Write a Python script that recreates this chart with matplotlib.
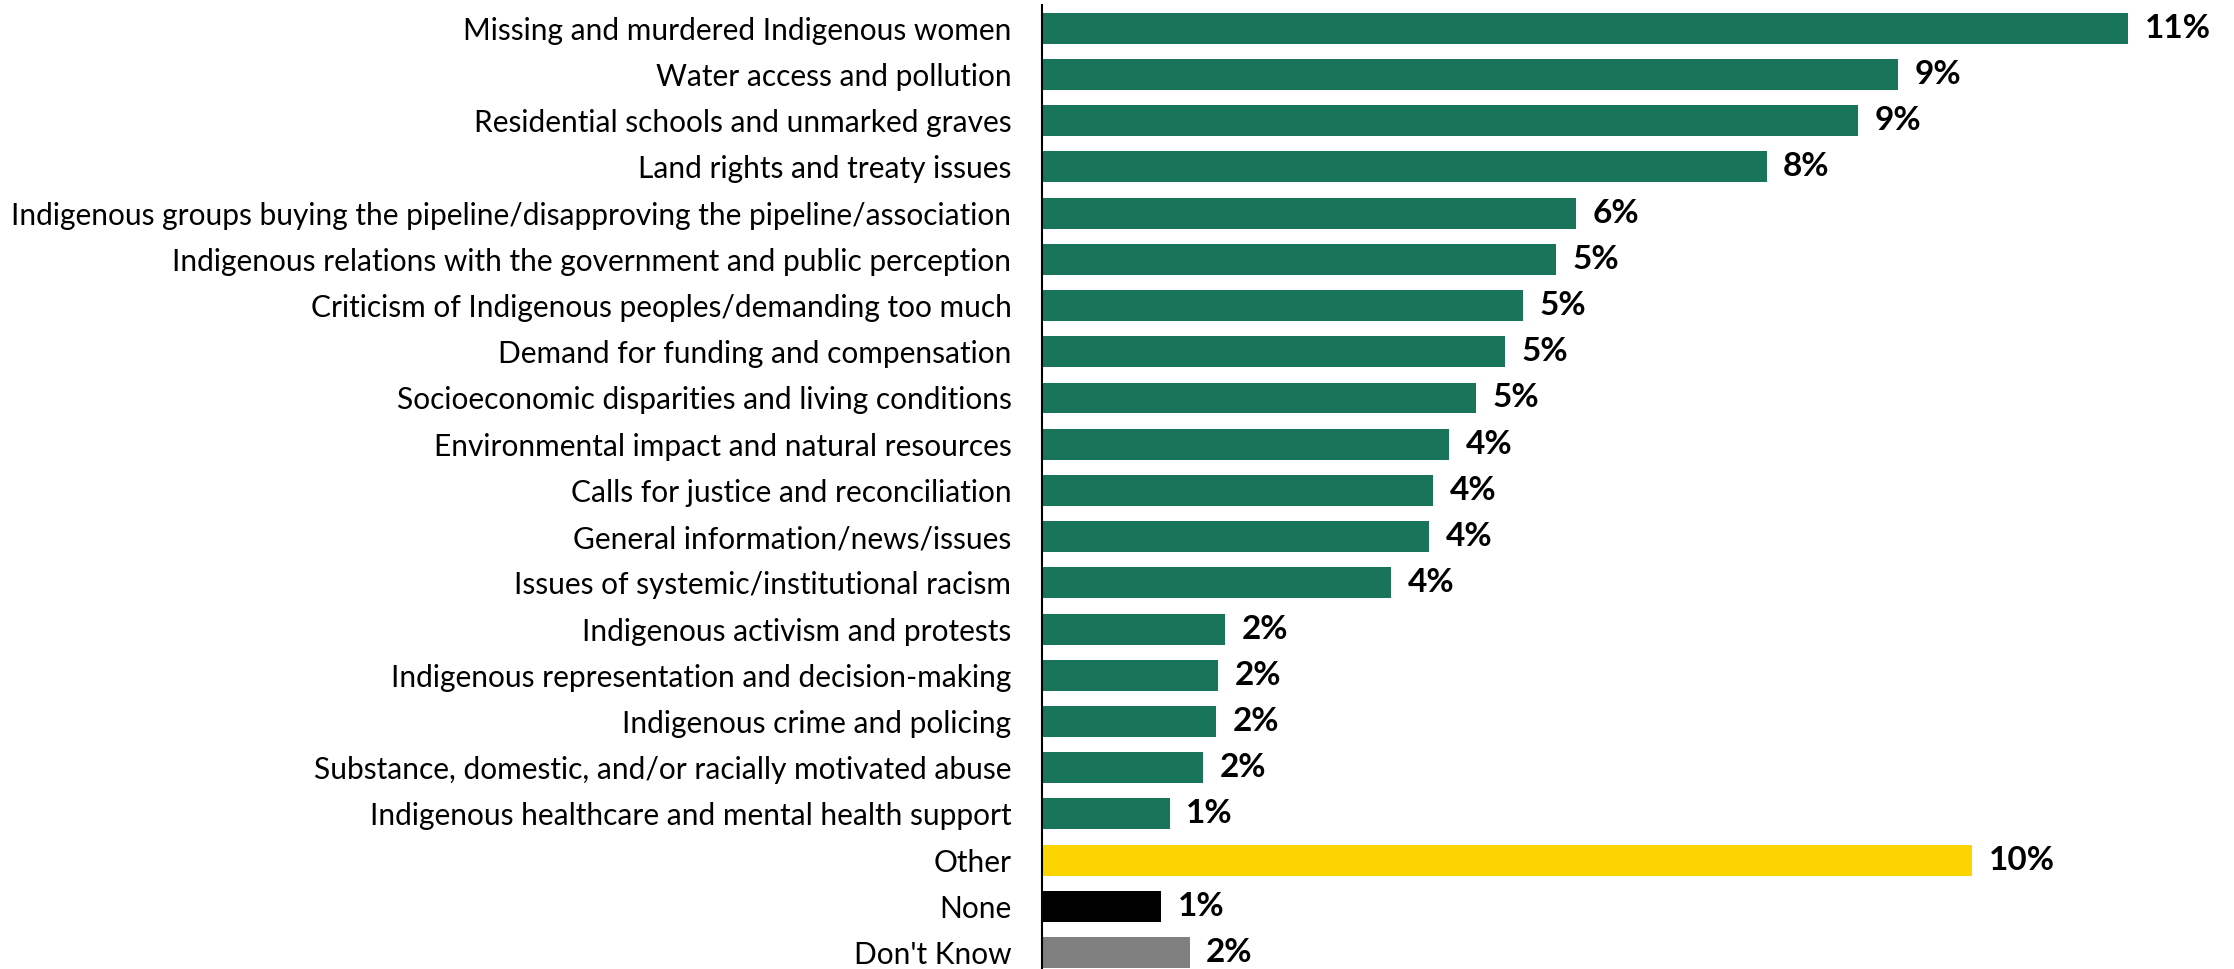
import matplotlib.pyplot as plt

categories = [
    "Missing and murdered Indigenous women",
    "Water access and pollution",
    "Residential schools and unmarked graves",
    "Land rights and treaty issues",
    "Indigenous groups buying the pipeline/disapproving the pipeline/association",
    "Indigenous relations with the government and public perception",
    "Criticism of Indigenous peoples/demanding too much",
    "Demand for funding and compensation",
    "Socioeconomic disparities and living conditions",
    "Environmental impact and natural resources",
    "Calls for justice and reconciliation",
    "General information/news/issues",
    "Issues of systemic/institutional racism",
    "Indigenous activism and protests",
    "Indigenous representation and decision-making",
    "Indigenous crime and policing",
    "Substance, domestic, and/or racially motivated abuse",
    "Indigenous healthcare and mental health support",
    "Other",
    "None",
    "Don't Know",
]
values = [11.41, 8.99, 8.57, 7.61, 5.61, 5.40, 5.05, 4.86, 4.56, 4.28, 4.11,
          4.07, 3.67, 1.92, 1.85, 1.83, 1.69, 1.34, 9.77, 1.25, 1.55]

green = "#18755A"
colors = [green] * 18 + ["#FCD400", "#000000", "#808080"]

plt.rcParams['font.family'] = ['Lato', 'DejaVu Sans']

fig = plt.figure(figsize=(22.34, 9.69), dpi=100)
ax = fig.add_axes([0.4664, -0.0068, 0.5336, 1.0014])

n = len(categories)
ypos = [n - 1 - i for i in range(n)]
bars = ax.barh(ypos, values, height=0.67, color=colors)

for y, v in zip(ypos, values):
    ax.annotate(f"{v:.0f}%", xy=(v, y), xytext=(12, 0), textcoords="offset points",
                va="center", ha="left", fontsize=24, fontweight="bold", color="black")

ax.set_yticks(ypos)
ax.set_yticklabels(categories, fontsize=21.5)
ax.tick_params(axis="y", length=0, pad=22)
ax.set_xticks([])
ax.set_xlim(0, 12.52)
ax.set_ylim(-0.5, 20.5)

for s in ["top", "right", "bottom"]:
    ax.spines[s].set_visible(False)
ax.spines["left"].set_linewidth(1.5)
ax.spines["left"].set_color("black")

fig.savefig("out.png", dpi=100)
